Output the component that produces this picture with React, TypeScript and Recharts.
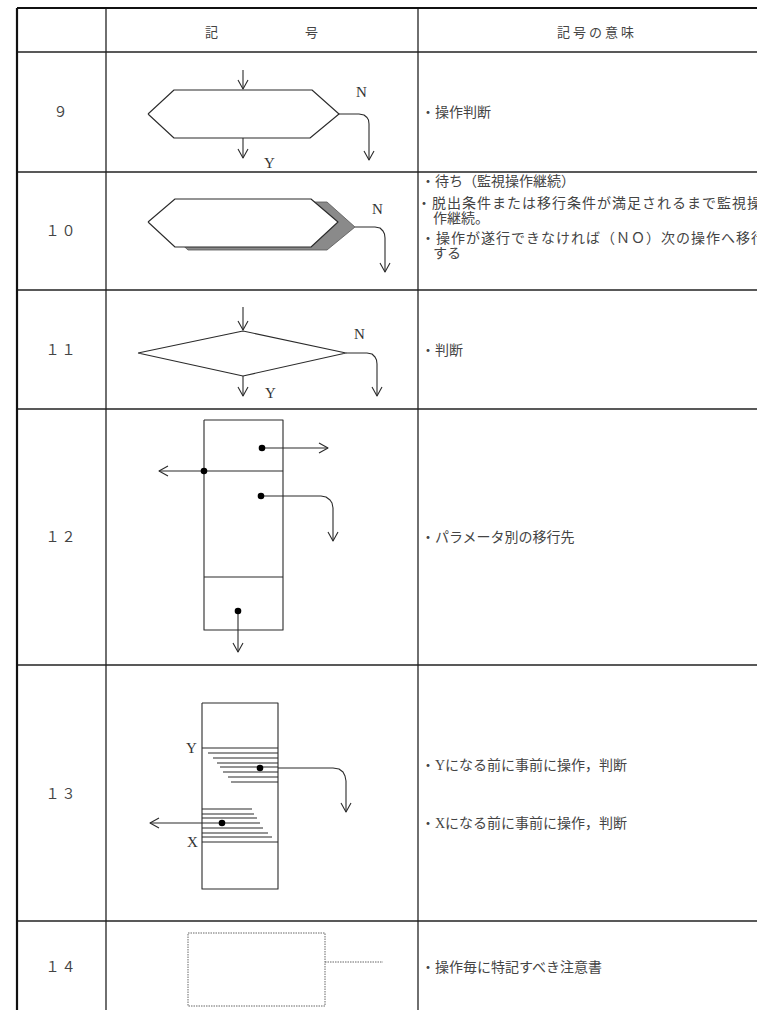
import { Area, ComposedChart, Line, Scatter, XAxis, YAxis } from "recharts";

type P = { x: number; y: number };

const W = 757;
const H = 1010;

// table frame (chart units = px of the sheet)
const tableLeft = 17;
const tableTop = 8;
const rowRules = [52, 172, 290, 409, 665, 921];
const colRules = [106, 418];

const rowNums = ["９", "１０", "１１", "１２", "１３", "１４"];
const rowNumY = [112, 231, 350, 537, 794, 967];

const headerTexts = [
  { t: "記", x: 213, y: 32, a: "middle" },
  { t: "号", x: 313, y: 32, a: "middle" },
  { t: "記号の意味", x: 597, y: 32, a: "middle" },
];

const descTexts = [
  { t: "・操作判断", x: 421, y: 112 },
  { t: "・待ち（監視操作継続）", x: 421, y: 181 },
  { t: "・脱出条件または移行条件が満足されるまで監視操", x: 417, y: 203, s: 1 },
  { t: "作継続。", x: 433, y: 218 },
  { t: "・操作が遂行できなければ（ＮＯ）次の操作へ移行", x: 421, y: 238, s: 1 },
  { t: "する", x: 433, y: 253 },
  { t: "・判断", x: 421, y: 350 },
  { t: "・パラメータ別の移行先", x: 421, y: 537 },
  { t: "・Yになる前に事前に操作，判断", x: 421, y: 765 },
  { t: "・Xになる前に事前に操作，判断", x: 421, y: 823 },
  { t: "・操作毎に特記すべき注意書", x: 421, y: 967 },
];

const symbolLetters = [
  { t: "N", x: 356, y: 92 },
  { t: "Y", x: 264, y: 163 },
  { t: "N", x: 372, y: 209 },
  { t: "N", x: 354, y: 334 },
  { t: "Y", x: 265, y: 393 },
  { t: "Y", x: 186, y: 748 },
  { t: "X", x: 187, y: 842 },
];

// 9: operation decision
const hex9: P[] = [
  { x: 148, y: 114 }, { x: 174, y: 90 }, { x: 312, y: 90 }, { x: 339, y: 114 },
  { x: 310, y: 138 }, { x: 174, y: 138 }, { x: 148, y: 114 },
];
// 10: wait (hexagon with shadow)
const hex10: P[] = [
  { x: 148, y: 222 }, { x: 175, y: 199 }, { x: 311, y: 199 }, { x: 338, y: 222 },
  { x: 311, y: 247 }, { x: 175, y: 247 }, { x: 148, y: 222 },
];
const hex10Fill = [
  { x: 148, r: [222, 222] }, { x: 175, r: [199, 247] },
  { x: 311, r: [199, 247] }, { x: 338, r: [222, 222] },
];
const shadow10 = [
  { x: 162, r: [226, 226] }, { x: 188, r: [202, 250] },
  { x: 327, r: [202, 250] }, { x: 355, r: [227, 227] },
];
// 11: decision diamond
const diamond11: P[] = [
  { x: 138, y: 353 }, { x: 243, y: 331 }, { x: 346, y: 353 }, { x: 243, y: 376 }, { x: 138, y: 353 },
];
// 12: per-parameter destination box
const box12: P[] = [
  { x: 204, y: 420 }, { x: 283, y: 420 }, { x: 283, y: 630 }, { x: 204, y: 630 }, { x: 204, y: 420 },
];
// 13: pre-operation box
const box13: P[] = [
  { x: 202, y: 703 }, { x: 278, y: 703 }, { x: 278, y: 889 }, { x: 202, y: 889 }, { x: 202, y: 703 },
];
const hatchY = [753, 758, 763, 767, 772, 777, 782];
const hatchYStart = [208, 213, 217, 220, 223, 228, 231];
const hatchX = [809, 814, 818, 823, 828, 833, 837];
const hatchXEnd = [252, 254, 257, 260, 263, 268, 272];
// 14: note box (dotted)
const note14: P[] = [
  { x: 188, y: 933 }, { x: 325, y: 933 }, { x: 325, y: 1006 }, { x: 188, y: 1006 }, { x: 188, y: 933 },
];
const note14Lead: P[] = [{ x: 325, y: 962 }, { x: 383, y: 962 }];

const strokes: P[][] = [
  hex9,
  [{ x: 243, y: 70 }, { x: 243, y: 89 }],
  [{ x: 243, y: 138 }, { x: 243, y: 158 }],
  [{ x: 339, y: 114 }, { x: 359, y: 114 }, { x: 364, y: 115 }, { x: 367, y: 117.5 }, { x: 368.5, y: 120 }, { x: 369, y: 124 }, { x: 369, y: 160 }],
  hex10,
  [{ x: 355, y: 227 }, { x: 375, y: 227 }, { x: 380, y: 228 }, { x: 383, y: 231 }, { x: 384.5, y: 234 }, { x: 385, y: 238 }, { x: 385, y: 272 }],
  diamond11,
  [{ x: 243, y: 307 }, { x: 243, y: 330 }],
  [{ x: 243, y: 376 }, { x: 243, y: 396 }],
  [{ x: 346, y: 353 }, { x: 367, y: 353 }, { x: 372, y: 354 }, { x: 375, y: 357 }, { x: 376.5, y: 360 }, { x: 377, y: 364 }, { x: 377, y: 396 }],
  box12,
  [{ x: 262, y: 448 }, { x: 328, y: 448 }],
  [{ x: 159, y: 471 }, { x: 283, y: 471 }],
  [{ x: 261, y: 496 }, { x: 321, y: 496 }, { x: 326, y: 497 }, { x: 330, y: 500 }, { x: 332, y: 503 }, { x: 333, y: 508 }, { x: 333, y: 541 }],
  [{ x: 204, y: 577 }, { x: 283, y: 577 }],
  [{ x: 238, y: 611 }, { x: 238, y: 652 }],
  box13,
  [{ x: 202, y: 748 }, { x: 278, y: 748 }],
  [{ x: 202, y: 842 }, { x: 278, y: 842 }],
  ...hatchY.map((y, i) => [{ x: hatchYStart[i], y }, { x: 278, y }]),
  ...hatchX.map((y, i) => [{ x: 202, y }, { x: hatchXEnd[i], y }]),
  [{ x: 278, y: 768 }, { x: 333, y: 768 }, { x: 339, y: 769 }, { x: 343, y: 772 }, { x: 345, y: 776 }, { x: 346, y: 781 }, { x: 346, y: 812 }],
  [{ x: 202, y: 823 }, { x: 150, y: 823 }],
];

// open arrowheads: tip position and direction
const arrowTips = [
  { x: 243, y: 89, d: "down" }, { x: 243, y: 158, d: "down" }, { x: 369, y: 160, d: "down" },
  { x: 385, y: 272, d: "down" },
  { x: 243, y: 330, d: "down" }, { x: 243, y: 396, d: "down" }, { x: 377, y: 396, d: "down" },
  { x: 328, y: 448, d: "right" }, { x: 159, y: 471, d: "left" }, { x: 333, y: 541, d: "down" }, { x: 238, y: 652, d: "down" },
  { x: 346, y: 812, d: "down" }, { x: 150, y: 823, d: "left" },
];

const dots = [
  { x: 262, y: 448 }, { x: 204, y: 471 }, { x: 261, y: 496 }, { x: 238, y: 611 },
  { x: 260, y: 768 }, { x: 222, y: 823 },
];

const head = (t: { x: number; y: number; d: string }): P[] => {
  const L = 9;
  const S = 5;
  if (t.d === "down") return [{ x: t.x - S, y: t.y - L }, { x: t.x, y: t.y }, { x: t.x + S, y: t.y - L }];
  if (t.d === "left") return [{ x: t.x + L, y: t.y - S }, { x: t.x, y: t.y }, { x: t.x + L, y: t.y + S }];
  return [{ x: t.x - L, y: t.y - S }, { x: t.x, y: t.y }, { x: t.x - L, y: t.y + S }];
};

const thinRules: P[][] = [
  ...rowRules.map((y) => [{ x: tableLeft, y }, { x: W, y }]),
  ...colRules.map((x) => [{ x, y: tableTop }, { x, y: H }]),
];
const thickRules: P[][] = [
  [{ x: tableLeft, y: tableTop }, { x: W, y: tableTop }],
  [{ x: tableLeft, y: tableTop }, { x: tableLeft, y: H }],
];

const rowNumData = rowNums.map((t, i) => ({ t, x: 61.5, y: rowNumY[i], a: "middle" }));

const JP = "'Liberation Serif', 'Noto Sans CJK JP', serif";
const INK = "#2b2b2b";

const textShape = (size: number, color: string, spacing = 0) => (p: any) => (
  <text
    x={p.cx}
    y={p.cy}
    textAnchor={p.payload.a ?? "start"}
    dominantBaseline="central"
    fontFamily={JP}
    fontSize={size}
    fill={color}
    letterSpacing={p.payload.s ?? spacing}
  >
    {p.payload.t}
  </text>
);

const seg = (pts: P[], key: string, width: number, color = INK, dash?: string) => (
  <Line
    key={key}
    data={pts}
    dataKey="y"
    type="linear"
    stroke={color}
    strokeWidth={width}
    strokeDasharray={dash}
    strokeLinejoin="round"
    dot={false}
    activeDot={false}
    isAnimationActive={false}
  />
);

export default function App() {
  return (
    <div style={{ position: "absolute", left: 0, top: 0, width: W, height: H, background: "#fff" }}>
      <ComposedChart width={W} height={H} margin={{ top: 0, right: 0, bottom: 0, left: 0 }}>
        <XAxis type="number" dataKey="x" domain={[0, W]} allowDataOverflow hide />
        <YAxis type="number" dataKey="y" domain={[0, H]} allowDataOverflow reversed hide />

        <Area data={shadow10} dataKey="r" type="linear" fill="#8a8a8a" fillOpacity={1} stroke="#555" strokeWidth={0.8} isAnimationActive={false} dot={false} activeDot={false} />
        <Area data={hex10Fill} dataKey="r" type="linear" fill="#fff" fillOpacity={1} stroke="none" isAnimationActive={false} dot={false} activeDot={false} />

        {thinRules.map((s, i) => seg(s, `rule-${i}`, 1.3, "#222"))}
        {thickRules.map((s, i) => seg(s, `frame-${i}`, 2.2, "#111"))}
        {strokes.map((s, i) => seg(s, `sym-${i}`, 1.1))}
        {arrowTips.map((t, i) => seg(head(t), `head-${i}`, 1.1))}
        {seg(note14, "note", 1, "#666", "1.5 1")}
        {seg(note14Lead, "note-lead", 1, "#666", "1.5 1")}

        <Scatter data={dots} fill="#000" isAnimationActive={false} shape={(p: any) => <circle cx={p.cx} cy={p.cy} r={3.3} fill="#000" />} />
        <Scatter data={rowNumData} isAnimationActive={false} shape={textShape(14, "#444", 2)} />
        <Scatter data={headerTexts} isAnimationActive={false} shape={textShape(13, "#444", 3)} />
        <Scatter data={descTexts} isAnimationActive={false} shape={textShape(14, "#444")} />
        <Scatter data={symbolLetters} isAnimationActive={false} shape={textShape(15, "#333")} />
      </ComposedChart>
    </div>
  );
}
